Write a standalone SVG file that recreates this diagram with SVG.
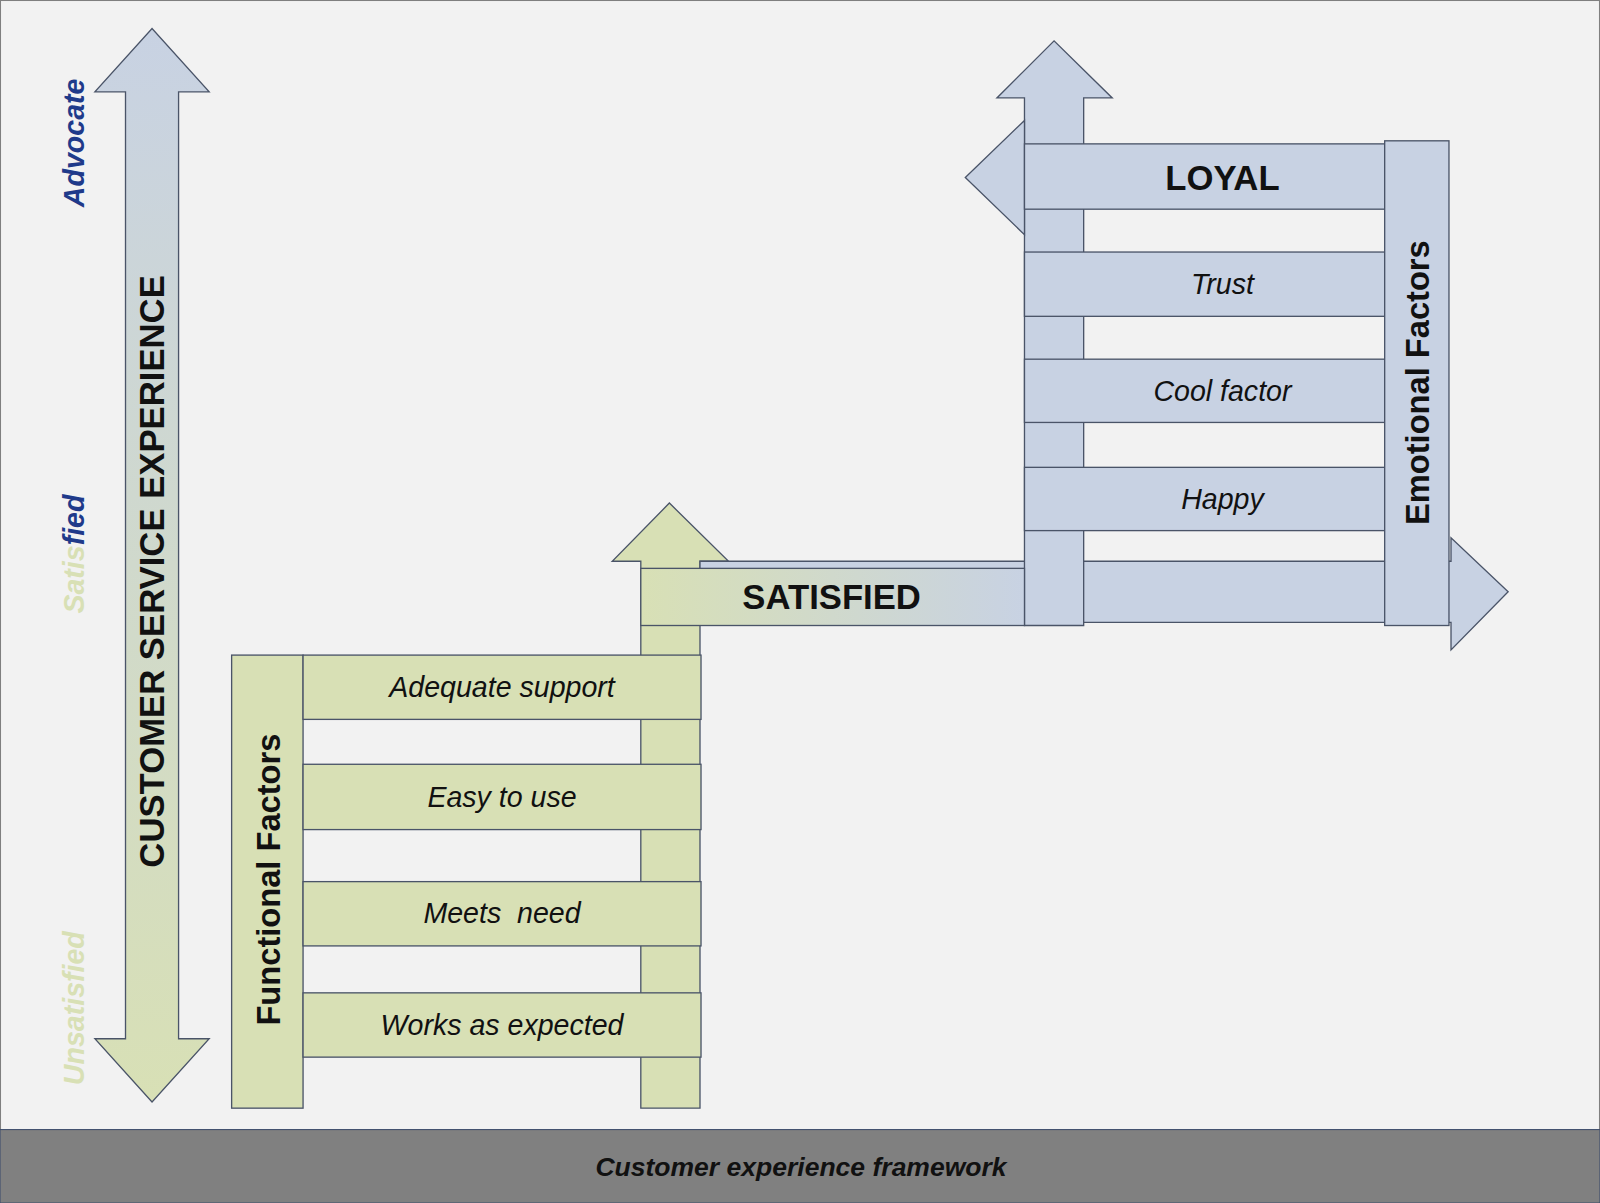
<svg xmlns="http://www.w3.org/2000/svg" width="1600" height="1203" viewBox="0 0 1600 1203">
<defs>
<style>
.b{fill:#c8d2e3;stroke:#4a5468;stroke-width:1.3}
.g{fill:#d8e0b5;stroke:#4a5468;stroke-width:1.3}
.t{font-family:"Liberation Sans",Arial,sans-serif;fill:#111}
.it{font-style:italic;font-size:28px;text-anchor:middle}
.bd{font-weight:bold;font-size:34px;text-anchor:middle}
.side{font-family:"Liberation Sans",Arial,sans-serif;font-weight:bold;font-style:italic;font-size:28px;text-anchor:middle}
</style>
<linearGradient id="vg" x1="0" y1="0" x2="0" y2="1"><stop offset="0" stop-color="#c8d2e3"/><stop offset="1" stop-color="#d8e0b5"/></linearGradient>
<linearGradient id="hg" x1="0" y1="0" x2="1" y2="0"><stop offset="0" stop-color="#d8e0b5"/><stop offset="1" stop-color="#c8d2e3"/></linearGradient>
</defs>
<g transform="scale(1.0204)">
<rect x="0.5" y="0.5" width="1567" height="1178" fill="#f2f2f2" stroke="#7f7f7f"/>
<g id="footer"><rect x="0" y="1107" width="1568" height="72" fill="#808080" stroke="#3a4a6a"/>
<text class="t" x="785" y="1152" font-size="26" font-weight="bold" font-style="italic" text-anchor="middle">Customer experience framework</text></g>
<g id="axis">
<path d="M123,90 L93,90 L149,28 L205,90 L175,90 L175,1018 L205,1018 L149,1080 L93,1018 L123,1018 Z" fill="url(#vg)" stroke="#4a5468" stroke-width="1.3"/>
<text class="t bd" transform="translate(161,560) rotate(-90)">CUSTOMER SERVICE EXPERIENCE</text>
<text class="side" transform="translate(82,140) rotate(-90)" fill="#1f3a8a">Advocate</text>
<text class="side" transform="translate(82,543) rotate(-90)"><tspan fill="#d8e0b5">Satis</tspan><tspan fill="#1f3a8a">fied</tspan></text>
<text class="side" transform="translate(82,988) rotate(-90)" fill="#d8e0b5">Unsatisfied</text>
</g>
<g id="connectors">
<path class="g" d="M628,1086 L628,550 L600,550 L656,493 L714,550 L686,550 L686,1086 Z"/>
<path class="b" d="M686,550 L1422,550 L1422,527 L1478,580 L1422,637 L1422,610 L686,610 Z"/>
<path class="b" d="M1004,613 L1004,96 L977,96 L1033,40 L1090,96 L1062,96 L1062,613 Z"/>
<path class="b" d="M1004,118 L946,174 L1004,230 Z"/>
</g>
<g id="satisfied"><rect x="628" y="557" width="376" height="56" fill="url(#hg)" stroke="#4a5468" stroke-width="1.3"/>
<text class="t bd" x="815" y="597">SATISFIED</text></g>
<g id="functional"><rect class="g" x="227" y="642" width="70" height="444"/>
<text class="t" transform="translate(274,862) rotate(-90)" font-size="32" font-weight="bold" text-anchor="middle">Functional Factors</text></g>
<g id="adequate"><rect class="g" x="297" y="642" width="390" height="63"/><text class="t it" x="492" y="683">Adequate support</text></g>
<g id="easy"><rect class="g" x="297" y="749" width="390" height="64"/><text class="t it" x="492" y="791">Easy to use</text></g>
<g id="meets"><rect class="g" x="297" y="864" width="390" height="63"/><text class="t it" x="492" y="905" xml:space="preserve">Meets  need</text></g>
<g id="works"><rect class="g" x="297" y="973" width="390" height="63"/><text class="t it" x="492" y="1014">Works as expected</text></g>
<g id="loyal"><rect class="b" x="1004" y="141" width="353" height="64"/><text class="t bd" x="1198" y="186">LOYAL</text></g>
<g id="trust"><rect class="b" x="1004" y="247" width="353" height="63"/><text class="t it" x="1198" y="288">Trust</text></g>
<g id="cool"><rect class="b" x="1004" y="352" width="353" height="62"/><text class="t it" x="1198" y="393">Cool factor</text></g>
<g id="happy"><rect class="b" x="1004" y="458" width="353" height="62"/><text class="t it" x="1198" y="499">Happy</text></g>
<g id="emotional"><rect class="b" x="1357" y="138" width="63" height="475"/>
<text class="t" transform="translate(1400,375) rotate(-90)" font-size="32" font-weight="bold" text-anchor="middle">Emotional Factors</text></g>
</g>
</svg>
